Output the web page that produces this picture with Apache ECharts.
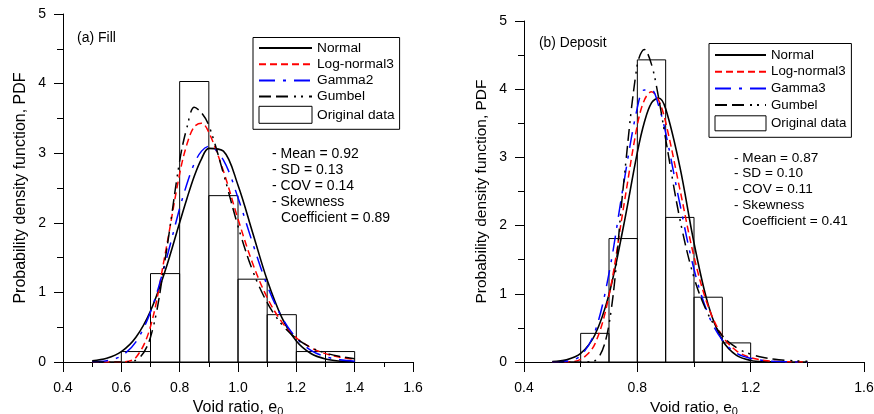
<!DOCTYPE html>
<html>
<head>
<meta charset="utf-8">
<script src="https://cdn.jsdelivr.net/npm/echarts@6/dist/echarts.min.js"></script>
<style>
html,body{margin:0;padding:0;background:#fff;}
#chart{width:874px;height:414px;}
</style>
</head>
<body>
<div id="chart"></div>
<script>
// ---------- DATA ----------
const xTicksA = ['0.4','0.6','0.8','1.0','1.2','1.4','1.6'];
const xTicksB = ['0.4','0.8','1.2','1.6'];
const yTicks = ['0','1','2','3','4','5'];

// Histogram (a) Fill: bin edges and heights
const binEdgesA = [0.6,0.7,0.8,0.9,1.0,1.1,1.2,1.3,1.4];
const histA = [0.15,1.27,4.03,2.39,1.19,0.68,0.15,0.15];
// Histogram (b) Deposit
const binEdgesB = [0.6,0.7,0.8,0.9,1.0,1.1,1.2];
const histB = [0.42,1.81,4.43,2.12,0.95,0.28];

// Curve sample positions (void ratio)
const xs = [0.5,0.55,0.6,0.65,0.7,0.75,0.8,0.825,0.85,0.875,0.9,0.95,1.0,1.05,1.1,1.15,1.2,1.25,1.3,1.35,1.4];

// (a) Fill curves
const normalA  = [0.017,0.053,0.148,0.355,0.733,1.306,2.005,2.35,2.67,2.92,3.07,3.03,2.54,1.862,1.177,0.642,0.302,0.122,0.043,0.013,0.003];
const lognormA = [0.0,0.0,0.0001,0.065,0.509,1.547,2.705,3.13,3.38,3.43,3.30,2.744,2.055,1.42,0.925,0.577,0.349,0.206,0.12,0.069,0.039];
const gammaA   = [0.0026,0.018,0.087,0.29,0.72,1.41,2.21,2.56,2.85,3.03,3.10,2.90,2.36,1.71,1.10,0.645,0.344,0.167,0.076,0.032,0.012];
const gumbelA  = [0,0,0.0002,0.025,0.355,1.47,2.89,3.37,3.66,3.58,3.40,2.71,1.95,1.315,0.853,0.541,0.338,0.209,0.129,0.079,0.048];

// (b) Deposit curves
const normalB  = [0.006,0.031,0.125,0.396,0.992,1.965,3.074,3.52,3.80,3.87,3.712,2.864,1.747,0.841,0.320,0.096,0.023,0.004,0.001,0,0];
const lognormB = [0,0.0024,0.0375,0.262,0.975,2.233,3.474,3.842,3.963,3.84,3.515,2.536,1.544,0.816,0.382,0.163,0.064,0.023,0.008,0.003,0.001];
const gammaB   = [0,0.011,0.093,0.44,1.30,2.57,3.73,3.99,3.99,3.76,3.36,2.32,1.36,0.70,0.32,0.13,0.054,0.02,0.007,0.002,0.001];
const gumbelB  = [0,0,0,0.018,0.549,2.554,4.367,4.581,4.364,3.875,3.269,2.098,1.239,0.700,0.386,0.210,0.114,0.061,0.033,0.018,0.0095];

const statsA = ['- Mean = 0.92','- SD = 0.13','- COV = 0.14','- Skewness','Coefficient = 0.89'];
const statsB = ['- Mean = 0.87','- SD = 0.10','- COV = 0.11','- Skewness','Coefficient = 0.41'];

// ---------- CHART ----------
const FONT = '"Liberation Sans", Arial, Helvetica, sans-serif';
const chart = echarts.init(document.getElementById('chart'));

function pairs(x, y){ return x.map((v,i)=>[v, y[i]]); }
function binData(edges, h){ return h.map((v,i)=>[edges[i], edges[i+1], v]); }

const STY = {
  normal: {color:'#000', width:1.6, type:'solid'},
  lognorm:{color:'#ff0000', width:1.5, type:[7,4]},
  gamma:  {color:'#0000ff', width:1.5, type:[16,8,3,8]},
  gumbel: {color:'#000', width:1.5, type:[12,5,12,6,2,5,2,6]}
};

function lineSeries(name, data, sty, idx){
  return {name, type:'line', xAxisIndex:idx, yAxisIndex:idx, data, smooth:0.35,
    symbol:'none', lineStyle:sty, itemStyle:{color:sty.color}, z:5, animation:false};
}
function histSeries(data, idx){
  return {name:'Original data', type:'custom', xAxisIndex:idx, yAxisIndex:idx,
    data, encode:{x:[0,1], y:2}, z:2, animation:false,
    itemStyle:{color:'#fff', borderColor:'#000', borderWidth:1},
    renderItem:function(params, api){
      const p0 = api.coord([api.value(0), api.value(2)]);
      const p1 = api.coord([api.value(1), 0]);
      return {type:'rect', shape:{x:p0[0], y:p0[1], width:p1[0]-p0[0], height:p1[1]-p0[1]},
        style:{fill:'none', stroke:'#000', lineWidth:1}};
    }};
}

function xAxisDef(idx, interval, fs){
  return {type:'value', gridIndex:idx, min:0.4, max:1.6, interval,
    axisLine:{lineStyle:{color:'#000', width:1}},
    axisTick:{length:10, lineStyle:{color:'#000'}},
    minorTick:{show:true, splitNumber:2, length:5, lineStyle:{color:'#000'}},
    splitLine:{show:false},
    axisLabel:{margin:19, color:'#000', fontSize:14, fontFamily:FONT,
      formatter:(v)=>{ const labs = idx===0?xTicksA:xTicksB; const s=v.toFixed(1); return labs.indexOf(s)>=0?s:''; }},
    name:'Void ratio, e{s|0}', nameLocation:'middle', nameGap:34,
    nameTextStyle:{color:'#000', fontSize:fs, fontFamily:FONT,
      rich:{s:{fontSize:11, fontFamily:FONT, color:'#000', padding:[9,0,0,0]}}}
  };
}
function yAxisDef(idx, fs){
  return {type:'value', gridIndex:idx, min:0, max:5, interval:1,
    axisLine:{show:true, lineStyle:{color:'#000', width:1}},
    axisTick:{show:true, length:9, lineStyle:{color:'#000'}},
    minorTick:{show:true, splitNumber:2, length:6, lineStyle:{color:'#000'}},
    splitLine:{show:false},
    axisLabel:{margin:17, color:'#000', fontSize:14, fontFamily:FONT,
      formatter:(v)=>yTicks[v] !== undefined ? yTicks[v] : ''},
    name:'Probability density function, PDF', nameLocation:'middle', nameGap:34,
    nameTextStyle:{color:'#000', fontSize:fs, fontFamily:FONT}
  };
}

function legendDef(left, top, pad, iw, ih, gap, fs, gname){
  return {orient:'vertical', left, top, padding:pad, itemWidth:iw, itemHeight:ih, itemGap:gap,
    borderColor:'#000', borderWidth:1, backgroundColor:'#fff', selectedMode:false,
    itemStyle:{opacity:0},
    textStyle:{color:'#000', fontSize:fs, fontFamily:FONT},
    data:['Normal','Log-normal3',gname,'Gumbel',
      {name:'Original data', icon:'rect', itemStyle:{opacity:1, color:'#fff', borderColor:'#000', borderWidth:1}}]};
}

function textEl(x, y, t, fs){
  return {type:'text', x, y, silent:true,
    style:{text:t, fill:'#000', fontSize:fs, fontFamily:FONT, verticalAlign:'middle', align:'left'}};
}

const graphics = [textEl(77, 38, '(a) Fill', 14), textEl(539, 43, '(b) Deposit', 13.8)];
statsA.forEach((t,i)=>graphics.push(textEl(i===4?281:272, 154.5 + i*16, t, 14)));
statsB.forEach((t,i)=>graphics.push(textEl(i===4?742:734, 158 + i*15.7, t, 13.6)));

const option = {
  animation:false,
  backgroundColor:'#fff',
  grid:[
    {left:63, top:14, width:350, height:348, outerBoundsMode:'none', containLabel:false},
    {left:524, top:21, width:340, height:341, outerBoundsMode:'none', containLabel:false}
  ],
  xAxis:[xAxisDef(0, 0.2, 16), xAxisDef(1, 0.4, 15.5)],
  yAxis:[yAxisDef(0, 16), yAxisDef(1, 15.5)],
  legend:[
    legendDef(253, 37.5, [3.5,5,5.5,5], 53, 17, 2.2, 13.7, 'Gamma2'),
    legendDef(709, 43.5, [5,5,6,5], 51, 15, 3.7, 13.3, 'Gamma3')
  ],
  graphic: graphics,
  series:[
    histSeries(binData(binEdgesA, histA), 0),
    lineSeries('Normal', pairs(xs, normalA), STY.normal, 0),
    lineSeries('Log-normal3', pairs(xs, lognormA), STY.lognorm, 0),
    lineSeries('Gamma2', pairs(xs, gammaA), STY.gamma, 0),
    lineSeries('Gumbel', pairs(xs, gumbelA), STY.gumbel, 0),
    histSeries(binData(binEdgesB, histB), 1),
    lineSeries('Normal', pairs(xs, normalB), STY.normal, 1),
    lineSeries('Log-normal3', pairs(xs, lognormB), STY.lognorm, 1),
    lineSeries('Gamma3', pairs(xs, gammaB), STY.gamma, 1),
    lineSeries('Gumbel', pairs(xs, gumbelB), STY.gumbel, 1)
  ]
};
chart.setOption(option);
</script>
</body>
</html>
